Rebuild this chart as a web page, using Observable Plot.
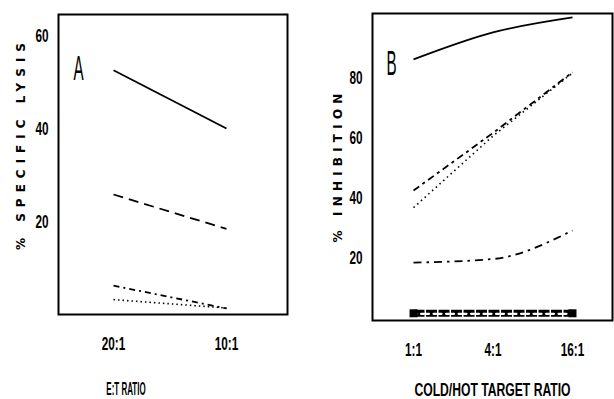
<!DOCTYPE html>
<html>
<head>
<meta charset="utf-8">
<script src="https://cdn.jsdelivr.net/npm/d3@7"></script>
<script src="https://cdn.jsdelivr.net/npm/@observablehq/plot@0.6"></script>
<style>
  html, body { margin: 0; padding: 0; background: #fff; }
  #wrap { position: relative; width: 614px; height: 399px; overflow: hidden; background: #fff; }
  #wrap svg { position: absolute; top: 0; }
</style>
</head>
<body>
<div id="wrap"></div>
<script>
// ---- Panel A data: % specific lysis vs E:T ratio ----
const panelA_x = ["20:1", "10:1"];
const panelA_solid = [52.5, 40.0];
const panelA_dashed = [25.8, 18.4];
const panelA_dashdot = [6.2, 1.3];
const panelA_dotted = [3.2, 1.4];
const panelA_yticks = [20, 40, 60];

// ---- Panel B data: % inhibition vs cold/hot target ratio ----
const panelB_x = ["1:1", "4:1", "16:1"];
const panelB_solid = [86, 95, 100];
const panelB_dashed = [42.3, 61.5, 81.7];
const panelB_dotted = [36.6, 60.5, 81.5];
const panelB_dashdot = [18.3, 19.5, 29.0];
const panelB_squares = [1.4, 1.4, 1.4];
const panelB_yticks = [20, 40, 60, 80];

const FONT = '"Liberation Sans", "Arial", sans-serif';

function rows(vals) { return vals.map((v, i) => ({i, v})); }

const lineOpts = {x: "i", y: "v", stroke: "black", strokeLinecap: "butt"};

const plotA = Plot.plot({
  width: 300, height: 399,
  marginLeft: 58, marginRight: 13, marginTop: 14, marginBottom: 85,
  style: {fontFamily: FONT, fontSize: "19px", fontWeight: "bold", background: "white"},
  x: {type: "linear", domain: [-0.487, 1.54], ticks: [0, 1], tickFormat: i => panelA_x[i], tickSize: 0, tickPadding: 22, label: null},
  y: {domain: [0, 64.5], ticks: panelA_yticks, tickSize: 0, tickPadding: 10, label: null},
  marks: [
    Plot.line(rows(panelA_solid), {...lineOpts, strokeWidth: 1.8}),
    Plot.line(rows(panelA_dashed), {...lineOpts, strokeWidth: 1.8, strokeDasharray: "10,6"}),
    Plot.line(rows(panelA_dashdot), {...lineOpts, strokeWidth: 1.8, strokeDasharray: "6,4,2,4"}),
    Plot.line(rows(panelA_dotted), {...lineOpts, strokeWidth: 1.6, strokeDasharray: "1.5,3"}),
    Plot.frame({stroke: "black", strokeWidth: 2}),
    Plot.text(["A"], {frameAnchor: "top-left", dx: 15, dy: 40, text: d => d, fontSize: 36, fontWeight: "normal"}),
    Plot.text(["% SPECIFIC LYSIS"], {frameAnchor: "left", dx: -37, dy: -21, rotate: -90, textAnchor: "middle", lineAnchor: "middle", text: d => d, fontSize: 12, fontFamily: "DejaVu Sans", fontWeight: "bold"}),
    Plot.text(["E:T RATIO"], {frameAnchor: "bottom", dx: -47, dy: 74, lineAnchor: "middle", text: d => d, fontSize: 19})
  ]
});

const plotB = Plot.plot({
  width: 314, height: 399,
  marginLeft: 72, marginRight: 2, marginTop: 13, marginBottom: 79,
  style: {fontFamily: FONT, fontSize: "19px", fontWeight: "bold", background: "white"},
  x: {type: "linear", domain: [-0.516, 2.503], ticks: [0, 1, 2], tickFormat: i => panelB_x[i], tickSize: 0, tickPadding: 22, label: null},
  y: {domain: [-1, 101.3], ticks: panelB_yticks, tickSize: 0, tickPadding: 10, label: null},
  marks: [
    Plot.line(rows(panelB_solid), {...lineOpts, strokeWidth: 1.8, curve: "monotone-x"}),
    Plot.line(rows(panelB_dashed), {...lineOpts, strokeWidth: 1.8, strokeDasharray: "7,4,3,4"}),
    Plot.line(rows(panelB_dotted), {...lineOpts, strokeWidth: 1.6, strokeDasharray: "1.5,3.5"}),
    Plot.line(rows(panelB_dashdot), {...lineOpts, strokeWidth: 1.8, strokeDasharray: "8,5,2.5,5", curve: "monotone-x"}),
    Plot.line(rows(panelB_squares), {...lineOpts, strokeWidth: 7, strokeDasharray: "11,1.5"}),
    Plot.line(rows(panelB_squares), {x: "i", y: "v", stroke: "white", strokeWidth: 2.2, strokeDasharray: "3,4.5,3,2", dy: 0.5}),
    Plot.dot(rows(panelB_squares).filter((d, k, a) => k === 0 || k === a.length - 1), {x: "i", y: "v", r: 4.5, fill: "black", symbol: "square"}),
    Plot.frame({stroke: "black", strokeWidth: 2}),
    Plot.text(["B"], {frameAnchor: "top-left", dx: 14, dy: 36, text: d => d, fontSize: 36, fontWeight: "normal"}),
    Plot.text(["% INHIBITION"], {frameAnchor: "left", dx: -34.5, dy: -1.5, rotate: -90, textAnchor: "middle", lineAnchor: "middle", text: d => d, fontSize: 12, fontFamily: "DejaVu Sans", fontWeight: "bold"}),
    Plot.text(["COLD/HOT TARGET RATIO"], {frameAnchor: "bottom", dx: 0, dy: 69, lineAnchor: "middle", text: d => d, fontSize: 19})
  ]
});

const wrap = document.getElementById("wrap");
plotA.style.left = "0px";
plotB.style.left = "300px";
wrap.appendChild(plotA);
wrap.appendChild(plotB);

// Condense text horizontally, like the narrow typeface of the original figure
const tickLabels = new Set([...panelA_x, ...panelB_x, ...panelA_yticks.map(String), ...panelB_yticks.map(String)]);
function styleText(svg) {
  d3.select(svg).selectAll("text").each(function () {
    const t = d3.select(this);
    const s = this.textContent;
    let sx = null;
    if (tickLabels.has(s)) sx = 0.62;
    else if (s === "A" || s === "B") sx = 0.42;
    else if (s === "E:T RATIO") sx = 0.42;
    else if (s === "COLD/HOT TARGET RATIO") sx = 0.64;
    else if (s === "% SPECIFIC LYSIS") { t.attr("letter-spacing", "6px"); return; }
    else if (s === "% INHIBITION") { t.attr("letter-spacing", "5.2px"); return; }
    if (sx == null) return;
    const tr = t.attr("transform");
    if (tr) {
      t.attr("transform", tr + ` scale(${sx},1)`);
    } else {
      const x = +t.attr("x") || 0, y = +t.attr("y") || 0;
      t.attr("transform", `translate(${x},${y}) scale(${sx},1) translate(${-x},${-y})`);
    }
  });
}
styleText(plotA);
styleText(plotB);
</script>
</body>
</html>
